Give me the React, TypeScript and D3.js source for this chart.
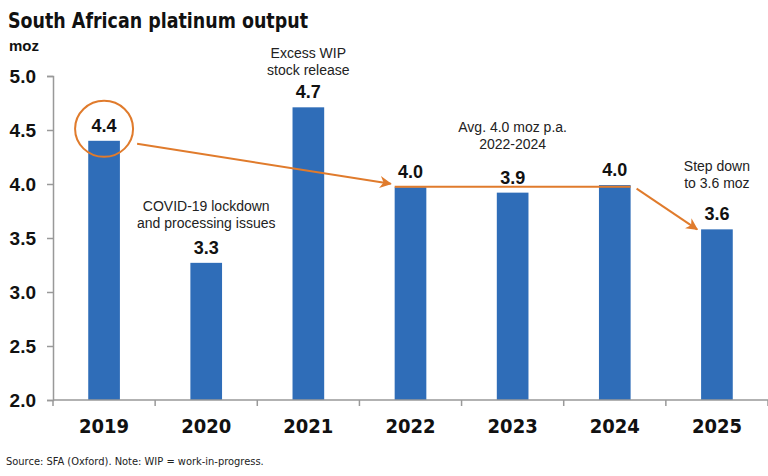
import React, { useRef, useEffect } from "react";
import * as d3 from "d3";

const years = ["2019", "2020", "2021", "2022", "2023", "2024", "2025"];
const output = [4.4, 3.27, 4.71, 3.97, 3.92, 3.99, 3.58];
const valueLabels = ["4.4", "3.3", "4.7", "4.0", "3.9", "4.0", "3.6"];
const yTicks = [2.0, 2.5, 3.0, 3.5, 4.0, 4.5, 5.0];

// level = where the first line of the note sits, in moz
const notes = [
  { year: "2020", level: 3.75, lines: ["COVID-19 lockdown", "and processing issues"] },
  { year: "2021", level: 5.17, lines: ["Excess WIP", "stock release"] },
  { year: "2023", level: 4.48, lines: ["Avg. 4.0 moz p.a.", "2022-2024"] },
  { year: "2025", level: 4.12, lines: ["Step down", "to 3.6 moz"] },
];
const avgLevel = 3.975;

const BLUE = "#2F6DB8";
const ORANGE = "#E07B2C";
const FONT = "'Liberation Sans', Arial, sans-serif";
const NARROW = "'DejaVu Sans Condensed', 'Liberation Sans', sans-serif";

const PlatinumChart: React.FC<{ width?: number; height?: number }> = ({
  width = 768,
  height = 476,
}) => {
  const ref = useRef<SVGSVGElement | null>(null);

  useEffect(() => {
    const margin = { top: 76, right: 0, bottom: 76, left: 53 };
    const w = width - margin.left - margin.right;
    const h = height - margin.top - margin.bottom;

    d3.select(ref.current).selectAll("*").remove();
    const root = d3.select(ref.current).attr("width", width).attr("height", height);

    root
      .append("defs")
      .append("marker")
      .attr("id", "arrow")
      .attr("viewBox", "0 0 10 10")
      .attr("refX", 9)
      .attr("refY", 5)
      .attr("markerWidth", 12)
      .attr("markerHeight", 12)
      .attr("markerUnits", "userSpaceOnUse")
      .attr("orient", "auto")
      .append("path")
      .attr("d", "M0,0 L10,5 L0,10 L3,5 Z")
      .attr("fill", ORANGE);

    // Title + unit
    root
      .append("text")
      .attr("x", 8)
      .attr("y", 28)
      .attr("font-family", NARROW)
      .attr("font-weight", "bold")
      .attr("textLength", 300)
      .attr("lengthAdjust", "spacingAndGlyphs")
      .style("font-size", "22px")
      .attr("fill", "#111")
      .text("South African platinum output");
    root
      .append("text")
      .attr("x", 9)
      .attr("y", 51)
      .attr("font-family", FONT)
      .attr("font-weight", "bold")
      .style("font-size", "15px")
      .attr("fill", "#111")
      .text("moz");

    const svg = root.append("g").attr("transform", `translate(${margin.left},${margin.top})`);

    const x = d3.scaleBand<string>().domain(years).range([0, w]).paddingInner(0.69).paddingOuter(0.345);
    const xEdge = d3.scaleBand<string>().domain(years).range([0, w]);
    const y = d3.scaleLinear().domain([2, 5]).range([h, 0]);

    // Bars
    svg
      .selectAll(".bar")
      .data(years)
      .enter()
      .append("rect")
      .attr("x", (d) => x(d)!)
      .attr("width", x.bandwidth())
      .attr("y", (d, i) => y(output[i]))
      .attr("height", (d, i) => h - y(output[i]))
      .attr("fill", BLUE);

    // Axes
    const yAxis = svg
      .append("g")
      .call(d3.axisLeft(y).tickValues(yTicks).tickFormat(d3.format(".1f")).tickSize(6) as any);
    yAxis.select(".domain").attr("stroke", "#999").attr("stroke-width", 1.5);
    yAxis.selectAll("line").attr("stroke", "#999").attr("stroke-width", 1.5);
    yAxis
      .selectAll("text")
      .attr("x", -17)
      .attr("font-family", FONT)
      .attr("font-weight", "bold")
      .attr("fill", "#111")
      .style("font-size", "19px");

    const xg = svg.append("g").attr("transform", `translate(0,${h})`);
    xg.append("line").attr("x1", 0).attr("x2", w).attr("stroke", "#999").attr("stroke-width", 1.5);
    xg.selectAll(".tk")
      .data(years.concat(["end"]))
      .enter()
      .append("line")
      .attr("x1", (d, i) => (i < years.length ? xEdge(d)! : w))
      .attr("x2", (d, i) => (i < years.length ? xEdge(d)! : w))
      .attr("y1", 0)
      .attr("y2", 6)
      .attr("stroke", "#999")
      .attr("stroke-width", 1.5);
    xg.selectAll(".lbl")
      .data(years)
      .enter()
      .append("text")
      .attr("x", (d) => x(d)! + x.bandwidth() / 2)
      .attr("y", 33)
      .attr("text-anchor", "middle")
      .attr("font-family", NARROW)
      .attr("font-weight", "bold")
      .attr("fill", "#111")
      .style("font-size", "20px")
      .text((d) => d);

    // Value labels
    svg
      .selectAll(".val")
      .data(years)
      .enter()
      .append("text")
      .attr("x", (d) => x(d)! + x.bandwidth() / 2)
      .attr("y", (d, i) => y(output[i]) - 9)
      .attr("text-anchor", "middle")
      .attr("font-family", FONT)
      .attr("font-weight", "bold")
      .attr("fill", "#111")
      .style("font-size", "18px")
      .text((d, i) => valueLabels[i]);

    // Annotation texts
    notes.forEach((n) => {
      const cx = x(n.year)! + x.bandwidth() / 2;
      n.lines.forEach((line, j) => {
        svg
          .append("text")
          .attr("x", cx)
          .attr("y", y(n.level) + j * 17)
          .attr("text-anchor", "middle")
          .attr("font-family", FONT)
          .attr("fill", "#222")
          .style("font-size", "14px")
          .text(line);
      });
    });

    // Circle round 2019 label
    const c19 = x("2019")! + x.bandwidth() / 2;
    svg
      .append("ellipse")
      .attr("cx", c19)
      .attr("cy", y(output[0]) - 12)
      .attr("rx", 29)
      .attr("ry", 28)
      .attr("fill", "none")
      .attr("stroke", ORANGE)
      .attr("stroke-width", 2);

    // Arrow 2019 -> 2022
    svg
      .append("line")
      .attr("x1", c19 + 33)
      .attr("y1", y(output[0]) + 3)
      .attr("x2", x("2022")! - 4)
      .attr("y2", y(avgLevel) - 3)
      .attr("stroke", ORANGE)
      .attr("stroke-width", 2)
      .attr("marker-end", "url(#arrow)");

    // Average line 2022-2024
    svg
      .append("line")
      .attr("x1", x("2022")!)
      .attr("x2", x("2024")! + x.bandwidth())
      .attr("y1", y(avgLevel))
      .attr("y2", y(avgLevel))
      .attr("stroke", ORANGE)
      .attr("stroke-width", 2);

    // Arrow 2024 -> 2025
    svg
      .append("line")
      .attr("x1", x("2024")! + x.bandwidth() + 6)
      .attr("y1", y(avgLevel) + 2)
      .attr("x2", x("2025")! - 4)
      .attr("y2", y(output[6]))
      .attr("stroke", ORANGE)
      .attr("stroke-width", 2)
      .attr("marker-end", "url(#arrow)");

    // Source
    root
      .append("text")
      .attr("x", 6)
      .attr("y", 465)
      .attr("font-family", NARROW)
      .attr("fill", "#222")
      .style("font-size", "11px")
      .text("Source: SFA (Oxford). Note: WIP = work-in-progress.");
  }, [width, height]);

  return (
    <svg
      ref={ref}
      style={{ position: "absolute", left: 0, top: 0, background: "#fff", display: "block" }}
    />
  );
};

export default function App() {
  return <PlatinumChart />;
}
